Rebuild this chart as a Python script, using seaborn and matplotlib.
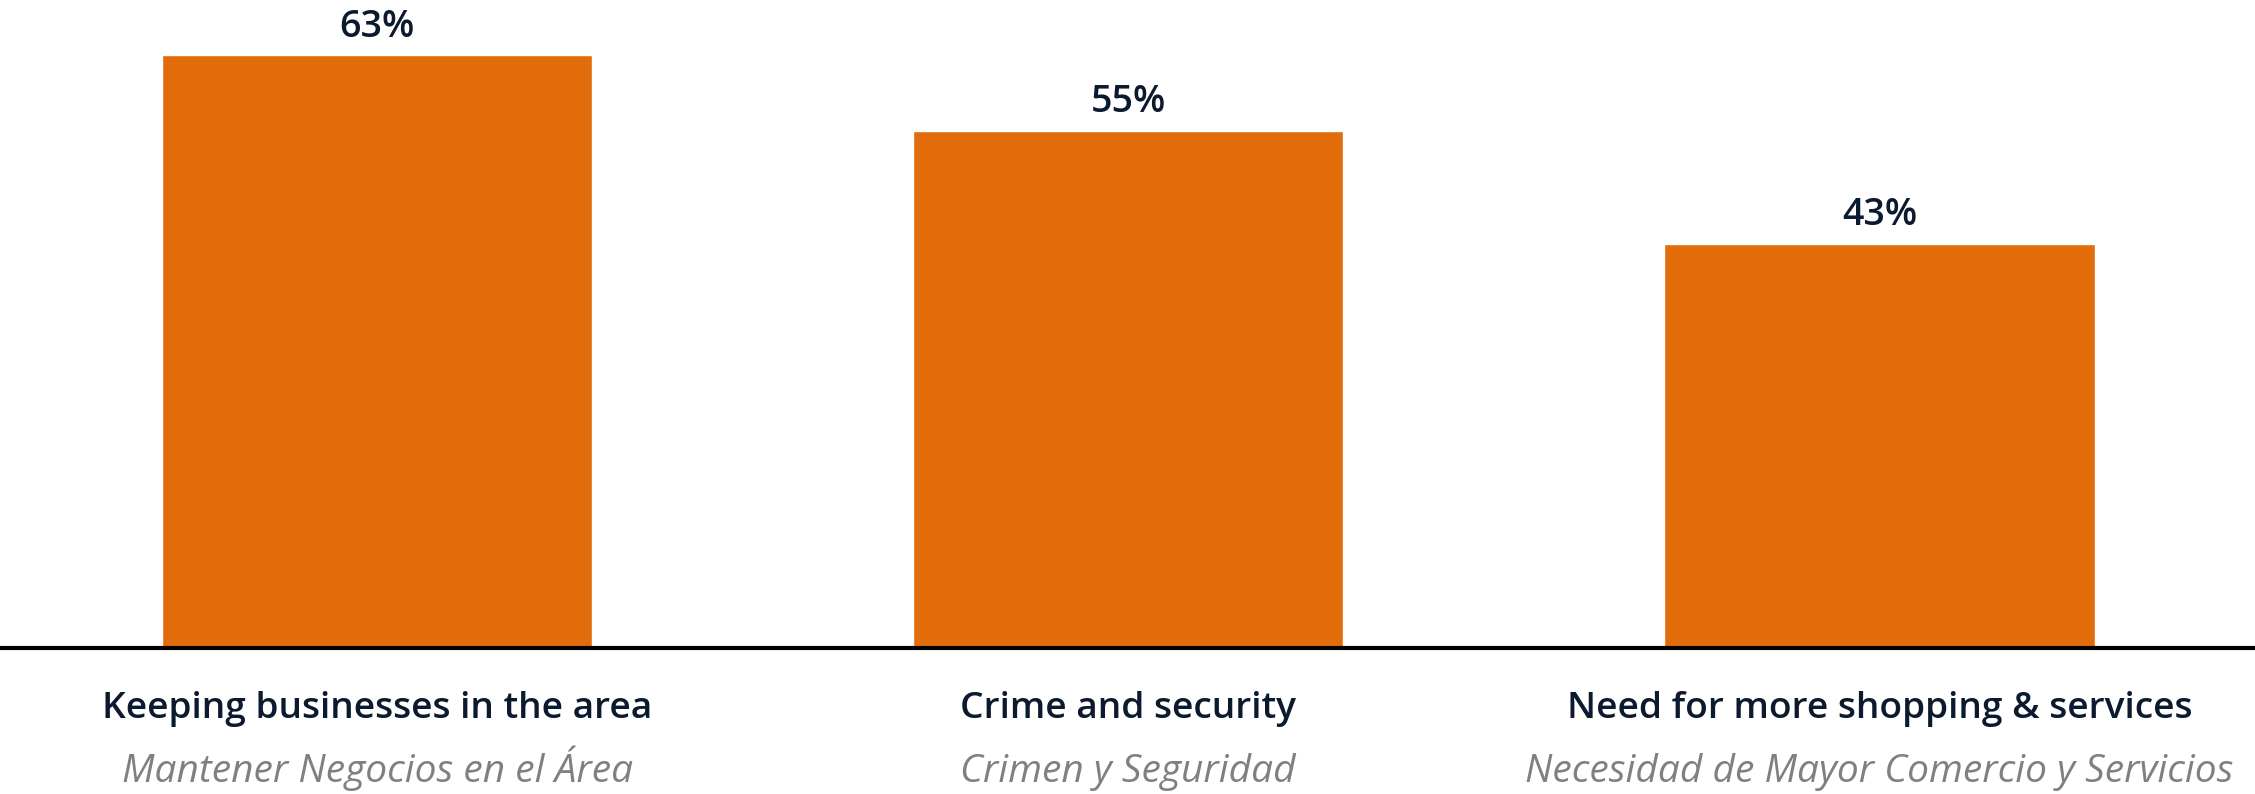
import matplotlib
matplotlib.use("Agg")
import matplotlib.pyplot as plt
import matplotlib.transforms as mtransforms
import seaborn as sns
import pandas as pd

# datos del gráfico
categories = ["Keeping businesses in the area", "Crime and security", "Need for more shopping & services"]
categories_es = ["Mantener Negocios en el Área", "Crimen y Seguridad", "Necesidad de Mayor Comercio y Servicios"]
values = [63, 55, 43]

df = pd.DataFrame({"category": categories, "value": values})

sns.set_style("white")
plt.rcParams["font.family"] = ["Open Sans", "DejaVu Sans"]

orange = "#E36C0A"
navy = "#0B1A2E"
gray = "#808080"

fig = plt.figure(figsize=(22.55, 7.94), dpi=100)
ax = fig.add_axes([0, 1 - 648 / 794, 1, 648 / 794])

sns.barplot(data=df, x="category", y="value", color=orange, width=0.573,
            saturation=1, ax=ax)

ax.set_xlim(-0.502, 2.5)
ax.set_ylim(0, 68.9)

for c in ax.containers:
    ax.bar_label(c, labels=[f"{v}%" for v in values], padding=7,
                 fontsize=27, fontweight="semibold", color=navy)

for s in ["top", "right", "left"]:
    ax.spines[s].set_visible(False)
ax.spines["bottom"].set_color("black")
ax.spines["bottom"].set_linewidth(3)

ax.set_yticks([])
ax.set_xlabel("")
ax.set_ylabel("")
ax.tick_params(axis="x", length=0, pad=31)
ax.set_xticks(range(len(categories)))
ax.set_xticklabels(categories, fontsize=26.7, fontweight="semibold", color=navy)

# subtítulos en español debajo de cada categoría
trans = mtransforms.blended_transform_factory(ax.transData, ax.transAxes)
for i, txt in enumerate(categories_es):
    ax.text(i, -134 / 648, txt, transform=trans, ha="center", va="baseline",
            fontsize=28, fontstyle="italic", color=gray)

fig.savefig("out.png", dpi=100)
